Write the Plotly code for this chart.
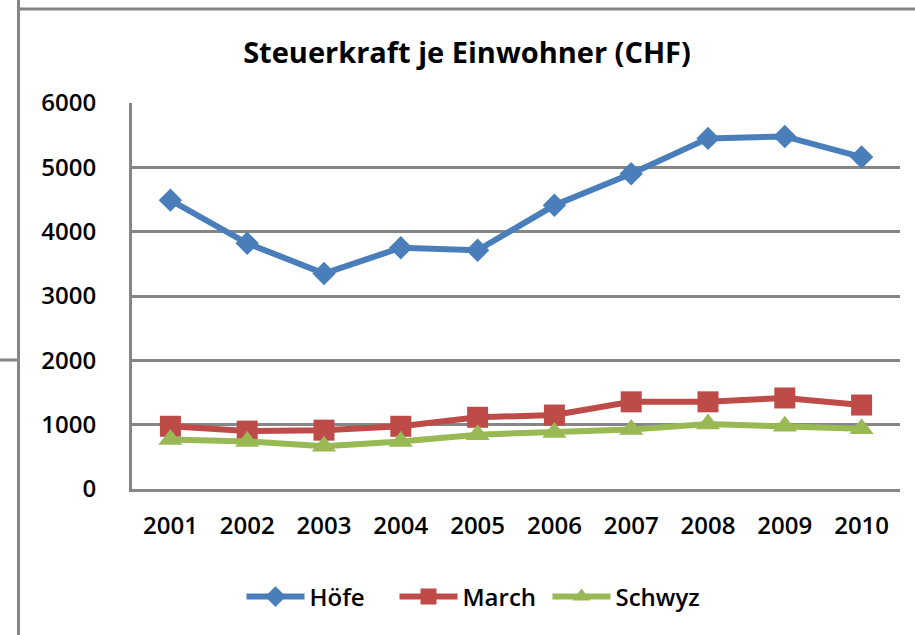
import plotly.graph_objects as go

years = ["2001", "2002", "2003", "2004", "2005", "2006", "2007", "2008", "2009", "2010"]
hoefe = [4490, 3820, 3350, 3750, 3710, 4410, 4900, 5450, 5480, 5160]
march = [975, 900, 915, 975, 1115, 1150, 1355, 1355, 1415, 1305]
schwyz = [770, 740, 665, 740, 845, 880, 925, 1010, 975, 935]

W, H = 915, 635
L, R, T, B = 132, 15, 103, 146
pw, ph = W - L - R, H - T - B

def px_x(x):
    return (x - L) / pw

def px_y(y):
    return (H - B - y) / ph

FONT = "Open Sans"
GRID = "#868686"
TXT = dict(family=FONT, size=24, color="black", weight=600)

fig = go.Figure()
fig.add_trace(go.Scatter(x=years, y=hoefe, name="Höfe", mode="lines+markers",
                         line=dict(color="#4A7EBB", width=6),
                         marker=dict(symbol="diamond", size=18, color="#4A7EBB")))
fig.add_trace(go.Scatter(x=years, y=march, name="March", mode="lines+markers",
                         line=dict(color="#BE4B48", width=6),
                         marker=dict(symbol="square", size=21, color="#BE4B48")))
fig.add_trace(go.Scatter(x=years, y=schwyz, name="Schwyz", mode="lines+markers",
                         line=dict(color="#98B954", width=6),
                         marker=dict(symbol="triangle-up", size=21, color="#98B954")))

shapes = [
    dict(type="line", xref="paper", yref="paper", x0=px_x(18.5), x1=px_x(18.5),
         y0=px_y(-5), y1=px_y(640), line=dict(color=GRID, width=3)),
    dict(type="line", xref="paper", yref="paper", x0=px_x(18.5), x1=px_x(920),
         y0=px_y(9), y1=px_y(9), line=dict(color=GRID, width=3)),
    dict(type="line", xref="paper", yref="paper", x0=px_x(-5), x1=px_x(18.5),
         y0=px_y(360), y1=px_y(360), line=dict(color=GRID, width=3)),
]

fig.update_layout(
    width=W, height=H,
    margin=dict(l=L, r=R, t=T, b=B, autoexpand=False),
    paper_bgcolor="white", plot_bgcolor="white",
    font=TXT,
    title=dict(text="<b>Steuerkraft je Einwohner (CHF)</b>", x=467 / W, xanchor="center",
               y=1 - 53 / H, yanchor="middle",
               font=dict(family=FONT, size=29, color="black")),
    xaxis=dict(type="category", range=[-0.5, 9.5], showgrid=False, showline=True,
               linecolor=GRID, linewidth=3, ticks="", ticklabelstandoff=13,
               tickfont=TXT),
    yaxis=dict(range=[0, 6000], dtick=1000, showgrid=True, gridcolor=GRID, gridwidth=3,
               zeroline=False, showline=True, linecolor=GRID, linewidth=3, ticks="",
               ticklabelstandoff=28, tickfont=TXT),
    legend=dict(orientation="h", x=px_x(471), xanchor="center", y=px_y(597), yanchor="middle",
                font=TXT, itemwidth=58, entrywidth=80, bgcolor="rgba(0,0,0,0)"),
    shapes=shapes,
    showlegend=True,
)

fig.write_html("out.html", config={"displayModeBar": False},
               post_script="document.body.style.margin='0';")
